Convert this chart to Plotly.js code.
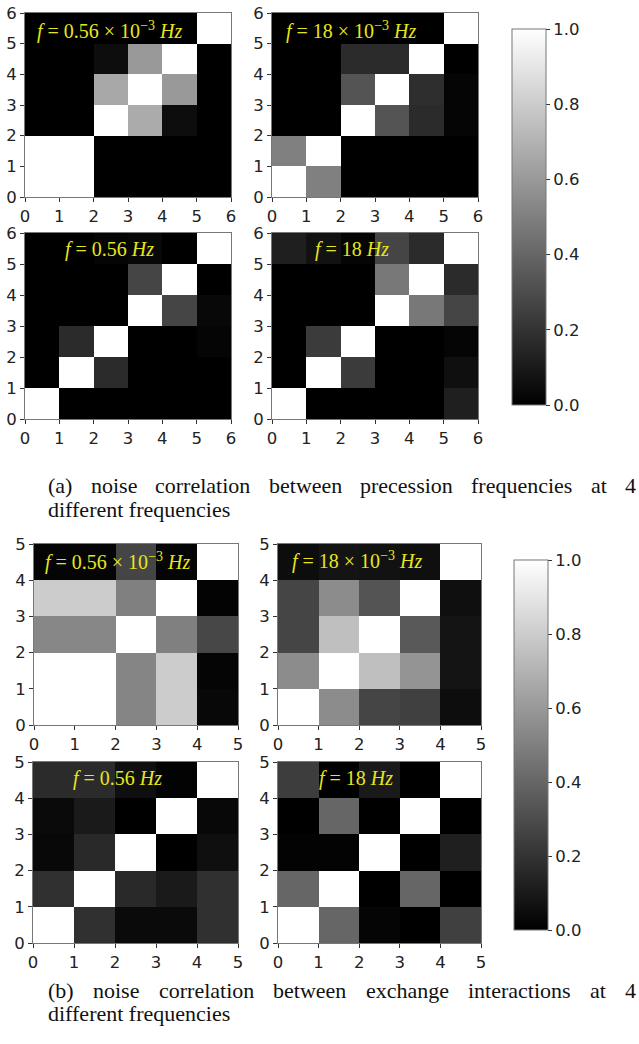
<!DOCTYPE html>
<html><head><meta charset="utf-8">
<script src="https://cdn.plot.ly/plotly-3.0.1.min.js"></script>
<style>html,body{margin:0;padding:0;background:#fff}#chart{width:639px;height:1044px}</style>
</head><body><div id="chart"></div>
<script>
// Correlation matrices, rows listed from bottom (y = 0) to top
const precLabels = [0,1,2,3,4,5,6];
const exchLabels = [0,1,2,3,4,5];

const precF1 = [ // f = 0.56e-3 Hz
  [1,1,0,0,0,0],
  [1,1,0,0,0,0],
  [0,0,1,0.67,0.05,0],
  [0,0,0.66,1,0.6,0],
  [0,0,0.05,0.6,1,0],
  [0,0,0,0,0,1]
];
const precF2 = [ // f = 18e-3 Hz
  [1,0.5,0,0,0,0],
  [0.5,1,0,0,0,0],
  [0,0,1,0.33,0.17,0.02],
  [0,0,0.33,1,0.18,0.02],
  [0,0,0.17,0.17,1,0],
  [0,0,0,0,0,1]
];
const precF3 = [ // f = 0.56 Hz
  [1,0,0,0,0,0],
  [0,1,0.17,0,0,0],
  [0,0.17,1,0,0,0.02],
  [0,0,0,1,0.27,0.03],
  [0,0,0,0.27,1,0],
  [0,0,0.02,0.03,0,1]
];
const precF4 = [ // f = 18 Hz
  [1,0,0,0,0,0.12],
  [0,1,0.23,0,0,0.06],
  [0,0.23,1,0,0,0.02],
  [0,0,0,1,0.47,0.27],
  [0,0,0,0.47,1,0.17],
  [0.12,0.07,0.02,0.27,0.17,1]
];
const exchF1 = [
  [1,1,0.52,0.8,0.03],
  [1,1,0.52,0.8,0.02],
  [0.53,0.53,1,0.5,0.28],
  [0.8,0.8,0.5,1,0.01],
  [0.02,0.02,0.27,0.02,1]
];
const exchF2 = [
  [1,0.55,0.27,0.25,0.05],
  [0.55,1,0.75,0.58,0.08],
  [0.27,0.75,1,0.35,0.08],
  [0.27,0.55,0.33,1,0.06],
  [0.05,0.08,0.07,0.06,1]
];
const exchF3 = [
  [1,0.19,0.04,0.04,0.19],
  [0.19,1,0.16,0.1,0.19],
  [0.03,0.16,1,0,0.06],
  [0.04,0.1,0,1,0.03],
  [0.17,0.17,0.06,0.01,1]
];
const exchF4 = [
  [1,0.4,0.02,0,0.25],
  [0.4,1,0,0.4,0],
  [0.01,0.01,1,0,0.12],
  [0,0.4,0,1,0],
  [0.24,0,0.1,0,1]
];

const freqLabels = [
  '<i>f</i> = 0.56 × 10<sup>−3</sup> <i>Hz</i>',
  '<i>f</i> = 18 × 10<sup>−3</sup> <i>Hz</i>',
  '<i>f</i> = 0.56 <i>Hz</i>',
  '<i>f</i> = 18 <i>Hz</i>'
];
const captionA = ['(a) noise correlation between precession frequencies at 4', 'different frequencies'];
const captionB = ['(b) noise correlation between exchange interactions at 4', 'different frequencies'];
const cbTicks = [0,0.2,0.4,0.6,0.8,1.0];

// ---------- layout geometry (pixels) ----------
const W = 639, H = 1044;
const boxes = [
  [25,231,13,197],[272,478,13,197],[25,231,233,419],[272,478,233,419],
  [34,238,544,725],[278,481,544,725],[33,238,762,943],[278,481,762,943]
];
const labelPos = [[109,30],[351,30],[109,249],[352,249],[117,561],[357,560],[117,778],[356,778]];
const mats = [precF1,precF2,precF3,precF4,exchF1,exchF2,exchF3,exchF4];
const cbars = [[512,29,376],[514,560,370]];

const gray = [[0,'rgb(0,0,0)'],[1,'rgb(255,255,255)']];
const tickFont = {family:'DejaVu Sans', size:16.5, color:'#222'};

const data = [];
const layout = {
  width: W, height: H, margin:{l:0,r:0,t:0,b:0},
  paper_bgcolor:'#fff', plot_bgcolor:'#fff', showlegend:false,
  annotations: []
};

mats.forEach((z, i) => {
  const n = z.length;
  const labels = n === 6 ? precLabels : exchLabels;
  const sfx = i === 0 ? '' : String(i+1);
  const b = boxes[i];
  const trace = {
    type:'heatmap', z: z, x0:0.5, dx:1, y0:0.5, dy:1,
    colorscale: gray, zmin:0, zmax:1,
    xaxis:'x'+sfx, yaxis:'y'+sfx, hoverinfo:'skip',
    showscale: (i === 0 || i === 4)
  };
  if (trace.showscale) {
    const c = cbars[i === 0 ? 0 : 1];
    trace.colorbar = {
      x: c[0]/W, xanchor:'left', y: 1 - c[1]/H, yanchor:'top',
      len: c[2], lenmode:'pixels', thickness:34, thicknessmode:'pixels',
      xpad:0, ypad:0, outlinewidth:1, outlinecolor:'#777',
      ticks:'outside', ticklen:4, tickcolor:'#333',
      tickvals: cbTicks, tickformat:'.1f', tickfont:{family:'DejaVu Sans', size:16.5, color:'#222'}
    };
  }
  data.push(trace);
  const axCommon = {
    range:[0,n], tickvals: labels, ticktext: labels.map(String),
    ticks:'outside', ticklen:4, tickcolor:'#333', tickwidth:1,
    showline:true, mirror:true, linecolor:'#777', linewidth:1,
    showgrid:false, zeroline:false, tickfont: tickFont, fixedrange:true
  };
  layout['xaxis'+sfx] = Object.assign({}, axCommon, {
    domain:[b[0]/W, b[1]/W], anchor:'y'+sfx
  });
  layout['yaxis'+sfx] = Object.assign({}, axCommon, {
    domain:[1 - b[3]/H, 1 - b[2]/H], anchor:'x'+sfx
  });
  layout.annotations.push({
    xref:'paper', yref:'paper', x: labelPos[i][0]/W, y: 1 - labelPos[i][1]/H,
    xanchor:'center', yanchor:'middle', showarrow:false,
    text: freqLabels[i % 4],
    font:{family:'Liberation Serif', size:20, color:'#e6e61e'}
  });
});

// captions (justified line 1 via word placement)
function justify(words, x0, x1, y, size) {
  const cv = document.createElement('canvas').getContext('2d');
  cv.font = size + 'px "Liberation Serif"';
  const widths = words.map(w => cv.measureText(w).width);
  const total = widths.reduce((a,b)=>a+b,0);
  const gap = (x1 - x0 - total) / (words.length - 1);
  let x = x0;
  words.forEach((w, k) => {
    layout.annotations.push({
      xref:'paper', yref:'paper', x: x/W, y: 1 - y/H, xanchor:'left', yanchor:'middle',
      showarrow:false, text:w, font:{family:'Liberation Serif', size:size, color:'#111'}
    });
    x += widths[k] + gap;
  });
}
function plainLine(text, x0, y, size) {
  layout.annotations.push({
    xref:'paper', yref:'paper', x: x0/W, y: 1 - y/H, xanchor:'left', yanchor:'middle',
    showarrow:false, text:text, font:{family:'Liberation Serif', size:size, color:'#111'}
  });
}
const capSize = 22;
justify(captionA[0].split(' '), 46, 634, 486, capSize);
plainLine(captionA[1], 46, 509, capSize);
justify(captionB[0].split(' '), 46, 634, 990, capSize);
plainLine(captionB[1], 46, 1013, capSize);

Plotly.newPlot('chart', data, layout, {displayModeBar:false, staticPlot:true});
</script></body></html>
